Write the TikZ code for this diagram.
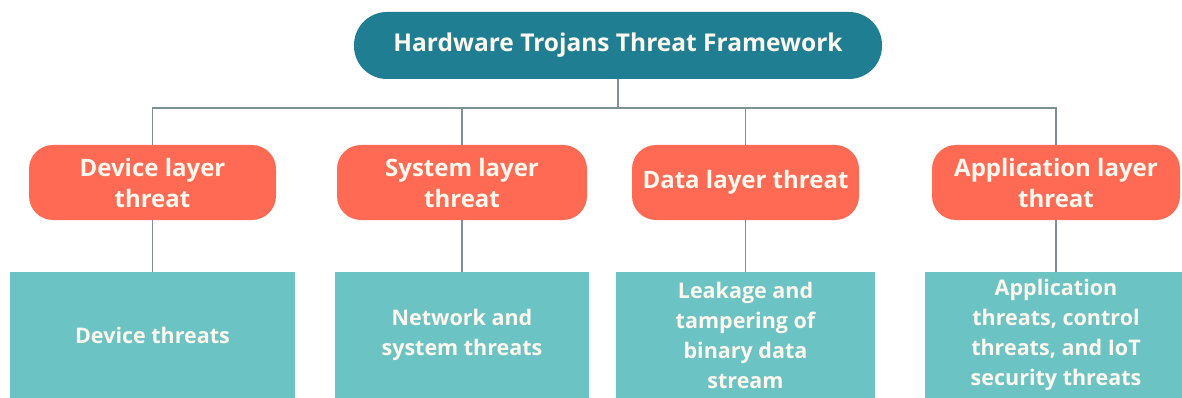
\documentclass[tikz,border=0pt]{standalone}
\usepackage{fontspec}
\setmainfont{Open Sans}
\usepackage{xcolor}
\usepackage{tikz}
\definecolor{headteal}{HTML}{1F7E92}
\definecolor{layerred}{HTML}{FF6A55}
\definecolor{leafteal}{HTML}{6CC3C3}
\definecolor{linkgray}{HTML}{7D9096}
\definecolor{paper}{HTML}{FFF8EE}

\tikzset{
	head/.style={fill=headteal, text=paper, rounded corners=33pt, minimum width=528pt, minimum height=67pt, font=\fontsize{24.5}{30}\selectfont\bfseries},
	layer/.style={fill=layerred, text=paper, rounded corners=24pt, minimum height=75pt, inner xsep=2pt, align=center, font=\fontsize{24}{31}\selectfont\bfseries},
	leaf/.style={fill=leafteal, text=paper, minimum height=126pt, align=center, font=\fontsize{21.5}{30}\selectfont\bfseries},
	link/.style={draw=linkgray, line width=1.4pt}
}

\begin{document}
\begin{tikzpicture}[x=1pt, y=-1pt]
				\useasboundingbox [fill=white] (0,0) rectangle (1182,398);
				
				\node [head] (top) at (618,45.5) {Hardware Trojans Threat Framework};
				
				\node [layer, minimum width=247pt] (dev) at (152.5,182.5) {Device layer\\threat};
				\node [layer, minimum width=250pt] (sys) at (462,182.5) {System layer\\threat};
				\node [layer, minimum width=227pt] (dat) at (745.5,182.5) {Data layer threat};
				\node [layer, minimum width=248pt] (app) at (1056,182.5) {Application layer\\threat};
				
				\node [leaf, minimum width=285pt] (devT) at (152.5,335) {Device threats};
				\node [leaf, minimum width=254pt] (sysT) at (462,335) {Network and\\system threats};
				\node [leaf, minimum width=259pt] (datT) at (745.5,335) {Leakage and\\tampering of\\binary data\\stream};
				\node [leaf, minimum width=262pt] (appT) at (1056,335) {Application\\threats, control\\threats, and IoT\\security threats};
				
				%\node at (618,108) {bus};
				\coordinate (bus) at (618,108);
				
				\draw [link] (top.south) -- (bus);
				\draw [link] (dev.north) |- (bus);
				\draw [link] (sys.north) |- (bus);
				\draw [link] (dat.north) |- (bus);
				\draw [link] (app.north) |- (bus);
				
				\draw [link] (dev.south) -- (devT.north);
				\draw [link] (sys.south) -- (sysT.north);
				\draw [link] (dat.south) -- (datT.north);
				\draw [link] (app.south) -- (appT.north);
\end{tikzpicture}
\end{document}
